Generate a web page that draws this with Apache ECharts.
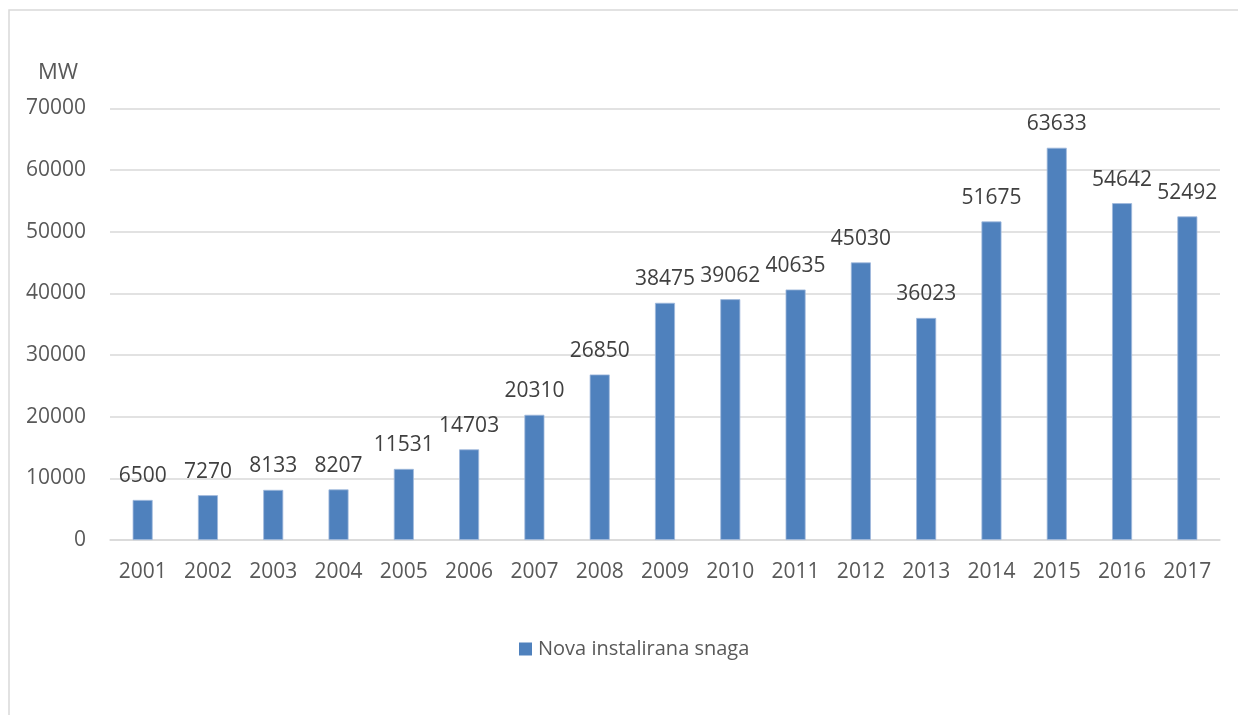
<!DOCTYPE html>
<html>
<head>
<meta charset="utf-8">
<script src="https://cdn.jsdelivr.net/npm/echarts@6/dist/echarts.min.js"></script>
<style>
html,body{margin:0;padding:0;background:#fff;}
#c{width:1238px;height:715px;}
</style>
</head>
<body>
<div id="c"></div>
<script>
const years = ['2001','2002','2003','2004','2005','2006','2007','2008','2009','2010','2011','2012','2013','2014','2015','2016','2017'];
const novaInstaliranaSnaga = [6500,7270,8133,8207,11531,14703,20310,26850,38475,39062,40635,45030,36023,51675,63633,54642,52492];
const seriesName = 'Nova instalirana snaga';
const unitLabel = 'MW';

const FONT = '"Open Sans", "Liberation Sans", sans-serif';
const chart = echarts.init(document.getElementById('c'), null, {renderer:'canvas'});
chart.setOption({
  backgroundColor:'#fff',
  animation:false,
  graphic:[{
    type:'rect', shape:{x:9, y:10, width:1300, height:800},
    style:{fill:'none', stroke:'#d9d9d9', lineWidth:1.5}, silent:true, z:-1
  }],
  title:{text:unitLabel, left:33, top:57, textStyle:{fontFamily:FONT, fontSize:22, fontWeight:'normal', color:'#595959'}},
  legend:{
    left:514, top:634, itemWidth:13, itemHeight:13, itemGap:10,
    icon:'rect',
    itemStyle:{borderWidth:0},
    textStyle:{fontFamily:FONT, fontSize:20, color:'#595959', padding:[0,0,0,1]},
    data:[seriesName]
  },
  grid:{left:110, right:18, top:108.5, bottom:175, containLabel:false},
  xAxis:{
    type:'category', data:years,
    axisLine:{lineStyle:{color:'#d9d9d9', width:1.5}},
    axisTick:{show:false},
    axisLabel:{fontFamily:FONT, fontSize:21, color:'#595959', margin:22}
  },
  yAxis:{
    type:'value', min:0, max:70000, interval:10000,
    axisLine:{show:false}, axisTick:{show:false},
    splitLine:{lineStyle:{color:'#d9d9d9', width:1.5}},
    axisLabel:{fontFamily:FONT, fontSize:21, color:'#595959', margin:24, formatter:function(v){return String(v);}}
  },
  series:[{
    name:seriesName, type:'bar', data:novaInstaliranaSnaga, barWidth:20,
    itemStyle:{color:'#4f81bd', borderColor:'#9fb9dc', borderWidth:0.8},
    label:{show:true, position:'top', distance:13, fontFamily:FONT, fontSize:21, color:'#404040'}
  }]
});
</script>
</body>
</html>
